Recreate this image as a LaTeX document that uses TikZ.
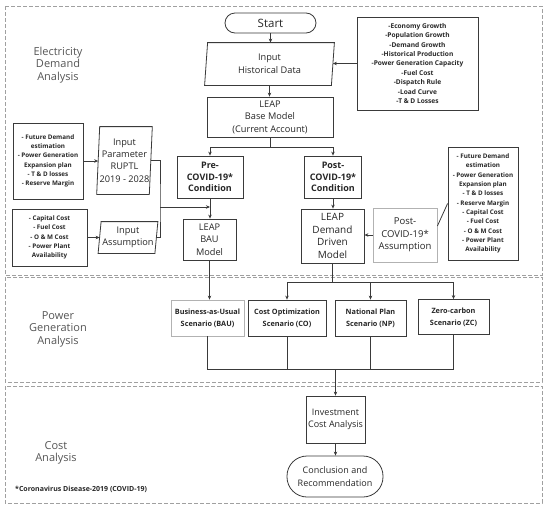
\documentclass[tikz,border=0pt]{standalone}
\usepackage{fontspec}
\setmainfont{Open Sans}
\usetikzlibrary{arrows.meta,calc}
\definecolor{ln}{HTML}{3A3A3A}
\definecolor{lbl}{HTML}{555555}
\definecolor{dsh}{HTML}{A0A0A0}
\definecolor{txt}{HTML}{262626}
\newcommand{\myfs}[2]{\fontsize{#1}{#2}\selectfont}
\newcommand{\paraoutline}[1]{\draw[ln, line width=0.8pt] ([xshift=1.5pt]#1.north west) -- ([xshift=1.5pt]#1.north east) -- ([xshift=-1.5pt]#1.south east) -- ([xshift=-1.5pt]#1.south west) -- cycle;}
\begin{document}
\begin{tikzpicture}[x=1pt,y=-1pt,
  box/.style={draw=ln, line width=0.8pt, align=center, inner sep=1pt, text=txt, font=\myfs{9.2}{12.5}},
  plain/.style={box, draw=none},
  listbox/.style={box, font=\myfs{6.6}{9.4}\bfseries},
  region/.style={draw=dsh, dash pattern=on 4pt off 2pt, line width=0.6pt},
  rlabel/.style={text=lbl, align=center, font=\myfs{11}{12.5}},
  conn/.style={draw=ln, line width=0.8pt},
  arr/.style={conn, -{Stealth[length=4pt,width=3.5pt]}},
  scen/.style={box, font=\myfs{7.3}{11.7}\bfseries, minimum height=36pt},
]
\useasboundingbox (0,0) rectangle (550,509);
% regions
\draw[region] (5,6) rectangle (542,275);
\draw[region] (5,277) rectangle (542,382);
\draw[region] (5,386) rectangle (542,503);
\node[rlabel] (eda) at (58,65) {Electricity\\Demand\\Analysis};
\node[rlabel] (pga) at (58,329) {Power\\Generation\\Analysis};
\node[rlabel] (ca) at (56,453) {Cost\\Analysis};
\node[anchor=west, font=\myfs{7}{8}\bfseries, text=txt, inner sep=0pt] (foot) at (15,489) {*Coronavirus Disease-2019 (COVID-19)};

% main column
\node[box, font=\myfs{11.5}{13}, rounded corners=10pt, minimum width=91pt, minimum height=20pt] (start) at (270.5,23) {Start};
\node[plain, minimum width=126pt, minimum height=42pt] (inp) at (269.5,64) {Input\\Historical Data};
\paraoutline{inp}
\node[listbox, minimum width=121pt, minimum height=93pt] (hist) at (417.5,63.5) {-Economy Growth\\-Population Growth\\-Demand Growth\\-Historical Production\\-Power Generation Capacity\\-Fuel Cost\\-Dispatch Rule\\-Load Curve\\-T \& D Losses};
\node[box, minimum width=126pt, minimum height=40pt] (base) at (270,117) {LEAP\\Base Model\\(Current Account)};
\node[box, font=\myfs{9}{11.5}\bfseries, minimum width=66pt, minimum height=42pt] (pre) at (210,177) {Pre-\\COVID-19*\\Condition};
\node[box, font=\myfs{9}{11.5}\bfseries, minimum width=57pt, minimum height=42pt] (post) at (333,177) {Post-\\COVID-19*\\Condition};
\node[box, minimum width=53pt, minimum height=41pt] (bau) at (209.5,239.5) {LEAP\\BAU\\Model};
\node[box, font=\myfs{10}{12.7}, minimum width=63pt, minimum height=54pt] (dd) at (332.5,236) {LEAP\\Demand\\Driven\\Model};
\node[box, draw=gray!60, font=\myfs{9.5}{12.5}, minimum width=64pt, minimum height=54pt] (pa) at (405,235) {Post-\\COVID-19*\\Assumption};
\node[listbox, font=\myfs{6.3}{9.3}\bfseries, minimum width=70pt, minimum height=113pt] (plist) at (483,203.5) {- Future Demand\\estimation\\- Power Generation\\Expansion plan\\- T \& D losses\\- Reserve Margin\\- Capital Cost\\- Fuel Cost\\- O \& M Cost\\- Power Plant\\Availability};

% left side
\node[listbox, font=\myfs{6.3}{9.3}\bfseries, minimum width=70pt, minimum height=76pt] (l1) at (48,161) {- Future Demand\\estimation\\- Power Generation\\Expansion plan\\- T \& D losses\\- Reserve Margin};
\node[plain, font=\myfs{9.2}{12.3}, minimum width=50pt, minimum height=67pt] (ip) at (124.5,160.5) {Input\\Parameter\\RUPTL\\2019 - 2028};
\paraoutline{ip}
\node[listbox, font=\myfs{6.3}{9.3}\bfseries, minimum width=75pt, minimum height=57pt] (l2) at (49.5,237.5) {- Capital Cost\\- Fuel Cost\\- O \& M Cost\\- Power Plant\\Availability};
\node[plain, minimum width=56pt, minimum height=31pt] (ia) at (128,237.5) {Input\\Assumption};
\paraoutline{ia}

% scenarios
\node[scen, draw=gray!60, minimum width=73pt] (sbau) at (207.5,318) {Business-as-Usual\\Scenario (BAU)};
\node[scen, minimum width=78pt] (sco) at (287,318) {Cost Optimization\\Scenario (CO)};
\node[scen, minimum width=71pt] (snp) at (370.5,318) {National Plan\\Scenario (NP)};
\node[scen, minimum width=71pt, minimum height=35pt] (szc) at (453.5,317) {Zero-carbon\\Scenario (ZC)};

% cost
\node[box, font=\myfs{9}{12.7}, minimum width=59pt, minimum height=47pt] (inv) at (335.5,419.5) {Investment\\Cost Analysis};
\node[box, font=\myfs{9}{12.7}, rounded corners=20pt, minimum width=96pt, minimum height=41pt] (conc) at (335,476.5) {Conclusion and\\Recommendation};

% connectors
\draw[arr] (start.south) -- (start.south |- inp.north);
\draw[arr] (inp.south) -- (inp.south |- base.north);
\draw[arr] (hist.west) -- (hist.west -| inp.east);
\draw[conn] (base.south) -- ++(0,10) coordinate (sp1);
\draw[arr] (sp1) -| (pre.north);
\draw[arr] (sp1) -| (post.north);
\draw[arr] (pre.south) -- (pre.south |- bau.north);
\draw[arr] (l1.east) -- (l1.east -| ip.west);
\draw[arr] (l2.east) -- (l2.east -| ia.west);
\coordinate (brk) at (160,207);
\draw[conn] (ip.east) -| (brk) |- (ia.east);
\draw[arr] (brk) -- (brk -| pre.south);
\draw[arr] (post.south) -- (post.south |- dd.north);
\draw[arr] (pa.west) -- (pa.west -| dd.east);
\draw[conn] (plist.west) -- ([yshift=9pt]pa.east);
\draw[arr] (bau.south) -- (bau.south |- sbau.north);
\draw[conn] (dd.south) -- ++(0,19) coordinate (sp2);
\draw[arr] (sp2) -| (sco.north);
\draw[arr] (sp2) -| (snp.north);
\draw[arr] (sp2) -| (szc.north);
\coordinate (jn) at (335.5,369);
\draw[conn] (sbau.south) -- (sbau.south |- jn) -- (szc.south |- jn) -- (szc.south);
\draw[conn] (sco.south) -- (sco.south |- jn);
\draw[conn] (snp.south) -- (snp.south |- jn);
\draw[arr] (jn) -- (jn |- inv.north);
\draw[arr] (inv.south) -- (inv.south |- conc.north);
\end{tikzpicture}
\end{document}
